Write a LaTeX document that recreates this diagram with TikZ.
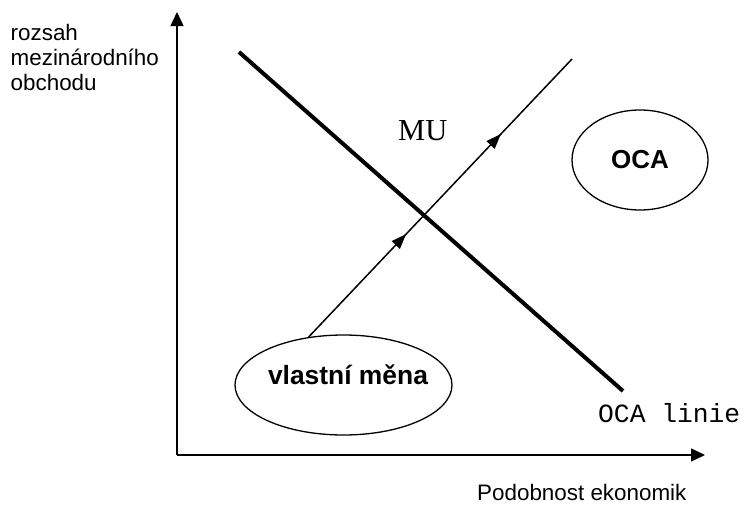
\documentclass[tikz,border=0pt]{standalone}
\usepackage{fontspec}
\setmainfont{Liberation Sans}
\newfontfamily\arialfont{Liberation Sans}
\newfontfamily\timesfont{Liberation Serif}
\newfontfamily\courfont{Liberation Mono}
\usetikzlibrary{arrows.meta,shapes.geometric,decorations.markings}
\begin{document}
\begin{tikzpicture}[x=1pt,y=-1pt,
  axis/.style={line width=1.5pt,-{Triangle[length=14pt,width=13pt]}},
  ocaline/.style={line width=4pt},
  muline/.style={line width=1.5pt,
    postaction={decorate,decoration={markings,
      mark=at position 0.37 with {\arrow{Triangle[length=15pt,width=11pt]}},
      mark=at position 0.73 with {\arrow{Triangle[length=15pt,width=11pt]}}}}},
  oval/.style={draw,ellipse,line width=1.3pt,inner sep=0pt},
  lbl/.style={inner sep=0pt,anchor=base west},
  sanslbl/.style={lbl,font=\arialfont\fontsize{22.4}{25.5}\selectfont}
]
\useasboundingbox (0,0) rectangle (745,506);
% axes
\coordinate (O) at (177,455);
\coordinate (ytip) at (177,12);
\coordinate (xtip) at (705,455);
\draw[axis] (O) -- (ytip);
\draw[axis] (O) -- (xtip);
% axis labels
\node[sanslbl] (yl1) at (10.5,40) {rozsah};
\node[sanslbl] (yl2) at (10.5,65) {mezinárodního};
\node[sanslbl] (yl3) at (10.5,90.5) {obchodu};
\node[sanslbl] (xl) at (477,500) {Podobnost ekonomik};
% OCA line
\coordinate (ocaA) at (239,52);
\coordinate (ocaB) at (623,391);
\draw[ocaline] (ocaA) -- (ocaB);
\node[lbl,font=\courfont\fontsize{26.3}{30}\selectfont] (ocal) at (598,422) {OCA linie};
% ellipses
\node[oval,minimum width=217pt,minimum height=100pt] (vm) at (343.5,385) {};
\node[inner sep=0pt,anchor=base,font=\arialfont\bfseries\fontsize{26.4}{30}\selectfont] (vmt) at (348,384) {vlastní měna};
\node[oval,minimum width=136pt,minimum height=100pt,font=\arialfont\bfseries\fontsize{26}{30}\selectfont] (oca) at (640,160) {OCA};
% MU path
\coordinate (mutop) at (572,59);
\draw[muline] (vm.126) -- (mutop);
\node[lbl,font=\timesfont\fontsize{30.5}{34}\selectfont] (mu) at (398,140) {MU};
\end{tikzpicture}
\end{document}
